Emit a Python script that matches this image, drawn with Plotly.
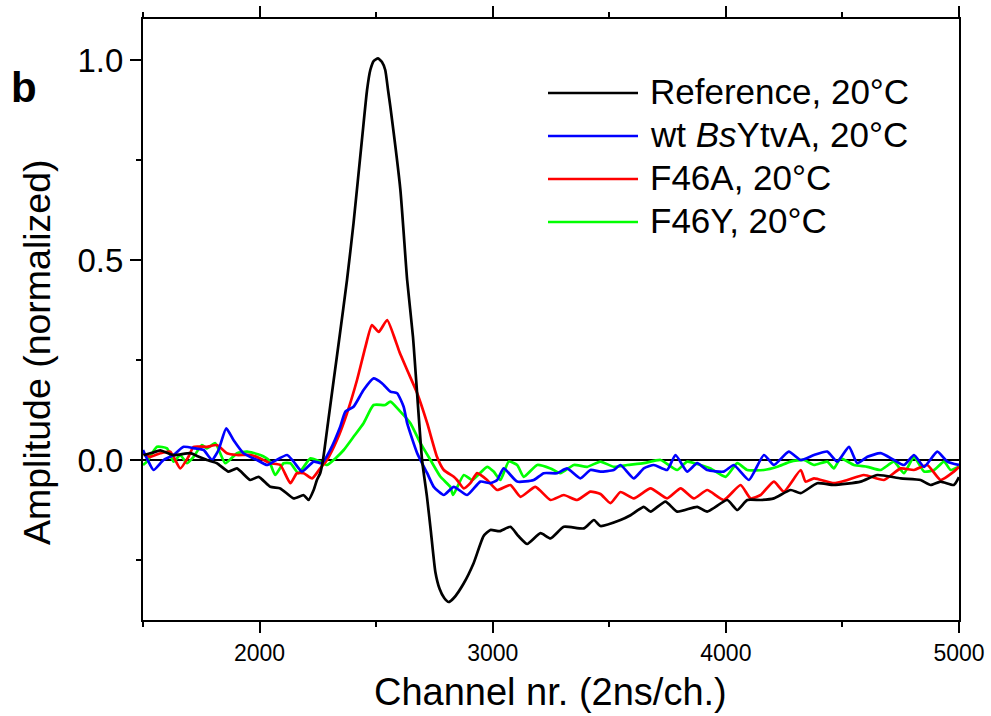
import plotly.graph_objects as go

# Channel numbers (2 ns per channel) and normalized amplitudes for each trace
ref_ch = [1502, 1540, 1574, 1631, 1703, 1740, 1774, 1817, 1867, 1903, 1960, 1996, 2046, 2089,
          2146, 2189, 2210, 2232, 2246, 2260, 2272, 2295, 2318, 2343, 2375, 2403, 2439, 2461,
          2475, 2490, 2508, 2525, 2539, 2551, 2561, 2604, 2633, 2658, 2697, 2718, 2735, 2754,
          2772, 2792, 2811, 2833, 2876, 2918, 2961, 2990, 3030, 3076, 3110, 3148, 3205, 3248,
          3305, 3391, 3434, 3462, 3548, 3591, 3648, 3677, 3741, 3791, 3877, 3920, 4006, 4049,
          4092, 4150, 4206, 4278, 4321, 4392, 4463, 4578, 4650, 4750, 4835, 4878, 4921, 4978,
          5000]
ref_amp = [0.012, 0.018, 0.024, 0.012, 0.017, 0.008, 0.0, -0.008, -0.029, -0.021, -0.05, -0.042,
           -0.067, -0.071, -0.096, -0.088, -0.1, -0.075, -0.05, -0.033, 0.0, 0.1, 0.2, 0.308,
           0.45, 0.592, 0.80, 0.925, 0.975, 0.998, 1.004, 0.995, 0.975, 0.925, 0.883, 0.675,
           0.45, 0.308, 0.0, -0.092, -0.18, -0.28, -0.322, -0.345, -0.355, -0.345, -0.308,
           -0.258, -0.19, -0.175, -0.178, -0.167, -0.19, -0.21, -0.183, -0.196, -0.167, -0.171,
           -0.15, -0.165, -0.15, -0.138, -0.117, -0.129, -0.104, -0.129, -0.117, -0.129, -0.1,
           -0.125, -0.1, -0.1, -0.096, -0.075, -0.083, -0.058, -0.0625, -0.054, -0.0375, -0.046,
           -0.05, -0.0625, -0.054, -0.0625, -0.043]

wt_ch = [1500, 1520, 1545, 1588, 1631, 1674, 1724, 1760, 1796, 1824, 1857, 1888, 1931, 1989,
         2032, 2060, 2118, 2146, 2182, 2232, 2268, 2303, 2346, 2368, 2403, 2446, 2489, 2525,
         2561, 2590, 2618, 2633, 2676, 2719, 2747, 2790, 2833, 2890, 2947, 2990, 3019, 3047,
         3105, 3176, 3219, 3276, 3319, 3376, 3419, 3462, 3519, 3548, 3605, 3648, 3691, 3748,
         3784, 3834, 3877, 3920, 3991, 4034, 4099, 4163, 4206, 4270, 4321, 4378, 4435, 4478,
         4528, 4564, 4607, 4664, 4721, 4764, 4807, 4850, 4907, 4950, 5000]
wt_amp = [0.025, 0.0, -0.025, 0.0, 0.0125, 0.033, 0.029, 0.025, 0.0, 0.025, 0.079, 0.05, 0.017,
          0.0, -0.0125, -0.004, 0.0125, -0.004, -0.029, -0.004, -0.008, 0.025, 0.083, 0.121,
          0.133, 0.175, 0.204, 0.192, 0.171, 0.167, 0.133, 0.092, 0.017, -0.033, -0.067,
          -0.0875, -0.067, -0.0875, -0.054, -0.058, -0.05, -0.021, -0.054, -0.05, -0.033,
          -0.033, -0.021, -0.046, -0.025, -0.029, -0.025, -0.0125, -0.046, -0.021, -0.0125,
          -0.025, 0.0125, -0.029, -0.008, -0.025, -0.029, -0.0125, -0.05, 0.0125, -0.0125,
          0.021, 0.0, 0.0125, 0.021, -0.004, 0.033, -0.008, 0.008, 0.017, 0.0, -0.0125, 0.0125,
          -0.017, 0.021, -0.004, -0.0125]

f46a_ch = [1500, 1531, 1574, 1617, 1660, 1695, 1717, 1774, 1817, 1860, 1903, 1960, 2003, 2046,
           2089, 2132, 2160, 2189, 2225, 2260, 2289, 2332, 2375, 2418, 2454, 2482, 2511, 2547,
           2582, 2600, 2633, 2676, 2719, 2761, 2790, 2833, 2847, 2876, 2904, 2933, 2976, 3019,
           3076, 3119, 3183, 3248, 3305, 3362, 3419, 3462, 3505, 3548, 3605, 3677, 3748, 3806,
           3863, 3920, 3991, 4063, 4106, 4149, 4206, 4249, 4321, 4342, 4378, 4463, 4521, 4592,
           4678, 4750, 4807, 4864, 4921, 4978, 5000]
f46a_amp = [0.017, 0.008, 0.017, 0.021, -0.021, 0.008, 0.033, 0.033, 0.0375, 0.017, 0.0125,
            0.0125, 0.004, -0.008, -0.0125, -0.058, -0.033, -0.033, -0.046, -0.021, 0.0, 0.05,
            0.117, 0.2, 0.283, 0.3375, 0.32, 0.35, 0.30, 0.27, 0.225, 0.167, 0.092, 0.008,
            -0.025, -0.042, -0.05, -0.071, -0.058, -0.033, -0.05, -0.075, -0.0625, -0.092,
            -0.067, -0.1, -0.0875, -0.1, -0.079, -0.085, -0.108, -0.08, -0.096, -0.071, -0.096,
            -0.071, -0.096, -0.075, -0.1, -0.0625, -0.096, -0.0875, -0.054, -0.079, -0.025,
            -0.054, -0.046, -0.058, -0.05, -0.0375, -0.05, -0.021, -0.025, -0.0125, -0.05,
            -0.029, -0.017]

f46y_ch = [1500, 1517, 1560, 1603, 1631, 1660, 1688, 1717, 1753, 1774, 1810, 1853, 1903, 1946,
           2003, 2039, 2067, 2103, 2132, 2167, 2218, 2260, 2289, 2325, 2361, 2403, 2446, 2489,
           2539, 2561, 2604, 2647, 2690, 2733, 2776, 2818, 2830, 2876, 2912, 2976, 3004, 3033,
           3069, 3105, 3133, 3191, 3248, 3290, 3348, 3405, 3462, 3519, 3577, 3648, 3720, 3791,
           3834, 3891, 3934, 3999, 4049, 4092, 4163, 4221, 4278, 4335, 4378, 4435, 4463, 4492,
           4549, 4607, 4664, 4721, 4764, 4807, 4850, 4893, 4936, 4964, 5000]
f46y_amp = [-0.0125, -0.004, 0.033, 0.029, -0.004, 0.0125, -0.008, 0.008, 0.0375, 0.029, 0.042,
            -0.008, 0.017, 0.021, 0.0125, 0.0, -0.0375, -0.008, -0.008, -0.033, 0.004, -0.004,
            -0.0125, 0.004, 0.025, 0.058, 0.092, 0.1375, 0.1375, 0.146, 0.121, 0.092, 0.042,
            0.0, -0.042, -0.067, -0.0875, -0.0375, -0.05, -0.017, -0.029, -0.05, -0.004,
            -0.0125, -0.042, -0.0125, -0.021, -0.033, -0.0125, -0.017, -0.004, -0.017, -0.0125,
            -0.008, 0.0, -0.025, -0.004, -0.0125, -0.021, -0.042, -0.008, -0.025, -0.025,
            -0.017, -0.004, 0.0, -0.0125, -0.004, -0.021, 0.004, -0.0125, -0.017, -0.025,
            -0.004, -0.033, 0.008, -0.029, -0.025, -0.004, -0.025, -0.017]

series_labels = ["Reference, 20°C", "wt <i>Bs</i>YtvA, 20°C", "F46A, 20°C", "F46Y, 20°C"]
series_colors = ["#000000", "#0000ff", "#ff0000", "#00ff00"]
series_data = [(ref_ch, ref_amp), (wt_ch, wt_amp), (f46a_ch, f46a_amp), (f46y_ch, f46y_amp)]

x_ticks = [2000, 3000, 4000, 5000]
y_ticks = [0.0, 0.5, 1.0]

FONT = "Liberation Sans, Arial, sans-serif"

fig = go.Figure()
# draw in reverse so the reference trace sits underneath the mutants
for (ch, amp), label, color in reversed(list(zip(series_data, series_labels, series_colors))):
    fig.add_trace(go.Scatter(
        x=ch, y=amp, mode="lines", name=label,
        line=dict(color=color, width=2.7, shape="spline", smoothing=0.5),
        showlegend=False,
    ))

# plot-area edges in pixels, used to place the legend and labels in paper units
L, R, T, B = 143, 959, 19, 620
W, H = R - L, B - T
def px(xp):
    return (xp - L) / W
def py(yp):
    return (B - yp) / H

# hand-built legend with long line samples
row0, row_step = 93, 43
shapes, annots = [], []
for i, (label, color) in enumerate(zip(series_labels, series_colors)):
    yc = py(row0 + i * row_step)
    shapes.append(dict(type="line", xref="paper", yref="paper", x0=px(548), x1=px(638),
                       y0=yc, y1=yc, line=dict(color=color, width=2.7)))
    annots.append(dict(text=label, xref="paper", yref="paper", x=px(648), y=py(row0 + i * row_step - 1.5),
                       xanchor="left", yanchor="middle", showarrow=False,
                       font=dict(family=FONT, size=35, color="black")))

annots.append(dict(text="Amplitude (normalized)", xref="paper", yref="paper",
                   x=px(37), y=py(352), xanchor="center", yanchor="middle",
                   textangle=-90, showarrow=False,
                   font=dict(family=FONT, size=37.5, color="black")))
annots.append(dict(text="<b>b</b>", xref="paper", yref="paper", x=px(24), y=py(87),
                   xanchor="center", yanchor="middle", showarrow=False,
                   font=dict(family=FONT, size=42, color="black")))
annots.append(dict(text="Channel nr. (2ns/ch.)", xref="paper", yref="paper",
                   x=px(550), y=py(692), xanchor="center", yanchor="middle", showarrow=False,
                   font=dict(family=FONT, size=38, color="black")))

fig.update_layout(
    width=991, height=716,
    margin=dict(l=L, r=991 - R, t=T, b=716 - B),
    paper_bgcolor="white", plot_bgcolor="white",
    font=dict(family=FONT, color="black"),
    shapes=shapes, annotations=annots,
    xaxis=dict(
        range=[1500, 5000], tickmode="array", tickvals=x_ticks,
        ticktext=[str(v) for v in x_ticks], automargin=False,
        ticks="outside", ticklen=11, tickwidth=2, tickcolor="black",
        showline=True, linewidth=2, linecolor="black", mirror="ticks",
        showgrid=False, zeroline=False,
        tickfont=dict(family=FONT, size=23, color="black"),
        minor=dict(tickmode="linear", tick0=1500, dtick=1000, ticks="outside", ticklen=5,
                   tickwidth=2, tickcolor="black", showgrid=False),
    ),
    yaxis=dict(
        range=[-0.4, 1.1025], tickmode="array", tickvals=y_ticks,
        ticktext=[f"{v:.1f}" for v in y_ticks], automargin=False,
        ticks="outside", ticklen=11, tickwidth=2, tickcolor="black",
        showline=True, linewidth=2, linecolor="black", mirror=True,
        showgrid=False, zeroline=True, zerolinecolor="black", zerolinewidth=2,
        tickfont=dict(family=FONT, size=33, color="black"),
        minor=dict(tickmode="linear", tick0=-0.25, dtick=0.5, ticks="outside", ticklen=5,
                   tickwidth=2, tickcolor="black", showgrid=False),
    ),
)

fig.write_html("out.html")
